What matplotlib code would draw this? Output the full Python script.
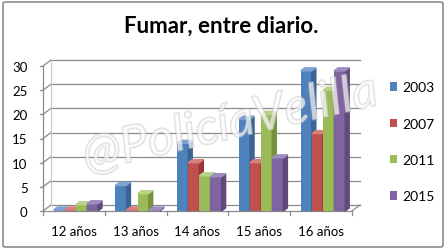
import numpy as np
import matplotlib
matplotlib.use("Agg")
import matplotlib.pyplot as plt
from matplotlib.patches import Polygon, Patch, FancyBboxPatch
import matplotlib.patheffects as pe

plt.rcParams["font.family"] = ["Lato", "DejaVu Sans"]

categories = ["12 años", "13 años", "14 años", "15 años", "16 años"]
years = ["2003", "2007", "2011", "2015"]
v2003 = [0.2, 5.3, 14.0, 19.0, 29.0]
v2007 = [0.2, 0.2, 10.0, 10.0, 16.0]
v2011 = [1.3, 3.6, 7.3, 20.0, 25.0]
v2015 = [1.5, 0.2, 7.1, 11.0, 29.0]
series = [v2003, v2007, v2011, v2015]

front = ["#4F81BD", "#C0504D", "#9BBB59", "#8064A2"]
side = ["#3A6493", "#943734", "#76923C", "#5F4A7B"]
top = ["#7EA2D3", "#D7807E", "#B9D488", "#A08BC0"]

W, H = 446, 251
fig = plt.figure(figsize=(W / 100, H / 100), dpi=100)

# outer chart border
fig.patches.append(FancyBboxPatch((3 / W, 3 / H), 1 - 6 / W, 1 - 6 / H,
                                  boxstyle="round,pad=0,rounding_size=0.006",
                                  transform=fig.transFigure, fill=False,
                                  edgecolor="#8c8c8c", linewidth=1.2))

fig.text(0.497, 0.895, "Fumar, entre diario.", ha="center", va="center",
         fontsize=16, fontweight="bold")

ax = fig.add_axes([43 / W, 39 / H, 309 / W, 145 / H])
ax.set_xlim(-0.5, len(categories) - 0.5)
ax.set_ylim(0, 30)
for s in ax.spines.values():
    s.set_visible(False)

# pixel -> data conversion for the fake depth
px_x = (len(categories)) / 309.0
px_y = 30 / 145.0
wall_dx, wall_dy = 8 * px_x, 6 * px_y
bar_dx, bar_dy = 4 * px_x, 3 * px_y

grid_c = "#8a8a8a"
x0, x1 = -0.5, len(categories) - 0.5
yticks = np.arange(0, 31, 5)
for yv in yticks:
    ax.plot([x0 + wall_dx, x1 + wall_dx], [yv + wall_dy, yv + wall_dy],
            color=grid_c, lw=0.9, clip_on=False, zorder=1)
    ax.plot([x0, x0 + wall_dx], [yv, yv + wall_dy], color=grid_c, lw=0.9,
            clip_on=False, zorder=1)
    ax.plot([x0 - 3 * px_x, x0], [yv, yv], color=grid_c, lw=0.9, clip_on=False)
# left axis, floor front edge and right floor edge
ax.plot([x0, x0], [0, 30], color=grid_c, lw=0.9, clip_on=False)
ax.plot([x0 + wall_dx, x0 + wall_dx], [wall_dy, 30 + wall_dy], color="#c8c8c8",
        lw=0.8, clip_on=False, zorder=1)
ax.plot([x0, x1], [0, 0], color=grid_c, lw=0.9, clip_on=False)
ax.plot([x1, x1 + wall_dx], [0, wall_dy], color=grid_c, lw=0.9, clip_on=False)
for i in range(len(categories) + 1):
    ax.plot([x0 + i, x0 + i], [0, -4 * px_y], color=grid_c, lw=0.9, clip_on=False)

# bars with side and top faces
bw = 0.18
x = np.arange(len(categories))
for k, vals in enumerate(series):
    xs = x - 2 * bw + k * bw + bw / 2 + 0.03
    ax.bar(xs, vals, width=bw, color=front[k], edgecolor="none", zorder=3 + k)
    for xc, h in zip(xs, vals):
        l, r = xc - bw / 2, xc + bw / 2
        ax.add_patch(Polygon([(r, 0), (r + bar_dx, bar_dy), (r + bar_dx, h + bar_dy), (r, h)],
                             closed=True, color=side[k], zorder=3 + k, clip_on=False))
        ax.add_patch(Polygon([(l, h), (l + bar_dx, h + bar_dy), (r + bar_dx, h + bar_dy), (r, h)],
                             closed=True, color=top[k], zorder=3 + k, clip_on=False))

ax.set_yticks(yticks)
ax.set_yticklabels([str(v) for v in yticks], fontsize=9.5)
ax.set_xticks(x)
ax.set_xticklabels(categories, fontsize=9.5)
ax.tick_params(length=0)
ax.tick_params(axis="y", pad=11)
ax.tick_params(axis="x", pad=10)

# watermark
fig.text(0.516, 0.50, "@PolicíaVelilla", rotation=13, ha="center", va="center",
         fontsize=36, style="italic", color="white", alpha=0.45, zorder=20,
         path_effects=[pe.withStroke(linewidth=1.4, foreground="#b8b8b8")])

handles = [Patch(facecolor=c, edgecolor="none") for c in front]
fig.legend(handles, years, loc="upper left", bbox_to_anchor=(377 / W, 1 - 70 / H),
           frameon=False, fontsize=10, handlelength=0.55, handleheight=0.55,
           handletextpad=0.35, labelspacing=1.75)

fig.savefig("out.png", dpi=100)
